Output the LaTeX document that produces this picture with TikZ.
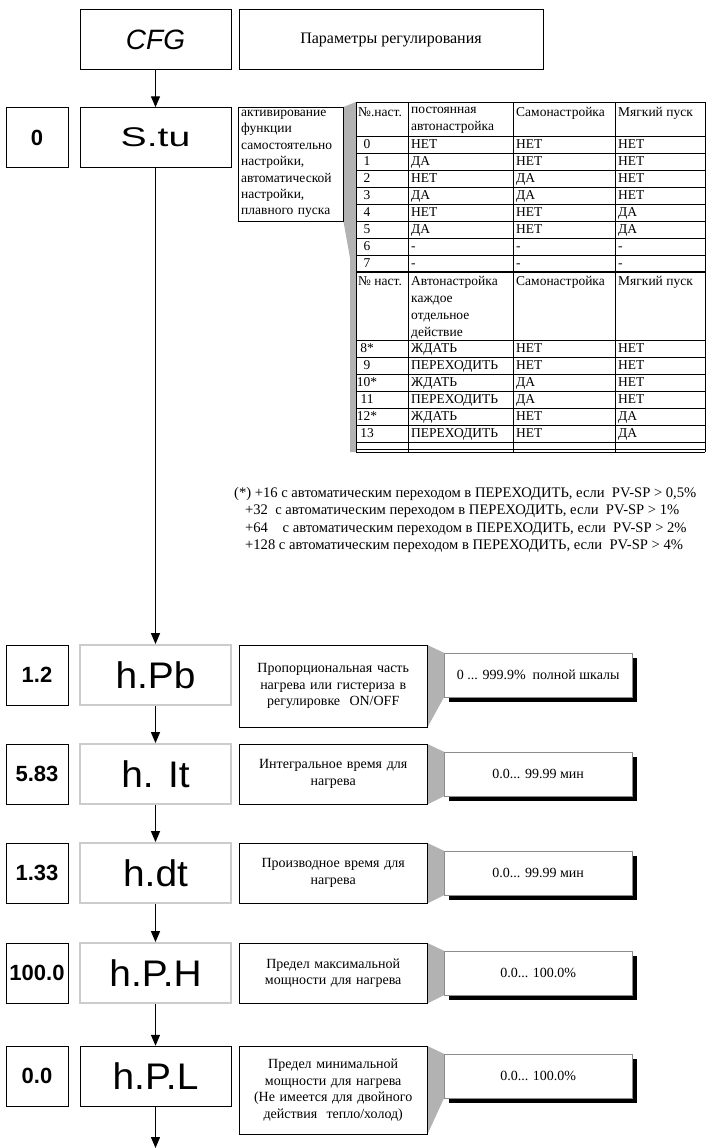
\documentclass[tikz,border=0pt]{standalone}
\usepackage{fontspec}
\setmainfont{Liberation Serif}
\setsansfont{Liberation Sans}
\newfontfamily\segfont[FakeStretch=1.05]{Liberation Sans}
\newfontfamily\segwide[FakeStretch=1.45]{Liberation Sans}
\usetikzlibrary{positioning, arrows.meta, shadows, backgrounds}

\begin{document}
\begin{tikzpicture}[x=1pt, y=-1pt,
    numbox/.style={draw, minimum width=62pt, minimum height=60pt, inner sep=0pt, font=\sffamily\bfseries\fontsize{22}{24}\selectfont},
    disp/.style={draw, minimum width=151pt, minimum height=60pt, inner sep=0pt, font=\segfont\fontsize{37}{37}\selectfont},
    dim/.style={draw=black!20, line width=1.8pt},
    desc/.style={draw, anchor=north west, minimum width=188pt, minimum height=60pt, text width=180pt, align=center, inner sep=4pt, font=\fontsize{14}{16.7}\selectfont},
    val/.style={draw=black!45, fill=white, anchor=west, minimum width=188pt, minimum height=44pt, font=\fontsize{14}{16}\selectfont, drop shadow={shadow xshift=5pt, shadow yshift=-5pt, fill=black, opacity=1}},
    cell/.style={anchor=base west, inner sep=0pt, align=left, font=\fontsize{13.5}{17}\selectfont},
    note/.style={anchor=base west, inner sep=0pt, font=\fontsize{14.6}{17}\selectfont},
    wedge/.style={fill=black!30},
    arrow/.style={-{Triangle[length=11pt, width=9pt]}, line width=1.3pt}
]
    \useasboundingbox (0,0) rectangle (706,1148);

    % menu header
    \node[disp, font=\sffamily\itshape\fontsize{28}{28}\selectfont] (cfg) at (155.5,39.5) {CFG};
    \node[draw, minimum width=304pt, minimum height=60pt, font=\fontsize{16}{18}\selectfont] (title) at (391,39.5) {Параметры регулирования};

    % S.tu
    \node[numbox] (v0) at (37,137.5) {0};
    \node[disp, font=\segwide\fontsize{27}{27}\selectfont] (stu) at (155.5,137.5) {S.tu};
    \node[draw, anchor=north west, text width=99pt, inner sep=3pt, align=left, font=\fontsize{13.5}{16.4}\selectfont] (stuinfo) at (238,107) {активирование\\функции\\самостоятельно\\настройки,\\автоматической\\настройки,\\плавного пуска};

    % settings table
    \coordinate (tnw) at (356,102);
    \coordinate (tsw) at (356,452);
    \coordinate (tkink) at (350,258);
    \draw[thin] (356,102) -- (705,102);
    \foreach \x in {356,408,513,615,705} \draw[thin] (\x,102) -- (\x,452);
    \draw[thin] (356,136) -- (705,136);
    \foreach \y in {153,170,...,255} \draw[thin] (356,\y) -- (705,\y);
    \draw[line width=1.6pt] (356,272) -- (705,272);
    \foreach \y in {340,357,...,442} \draw[thin] (356,\y) -- (705,\y);
    \draw[thin] (356,449) -- (705,449);
    \draw[thin] (356,452) -- (705,452);

    \node[cell, anchor=north west] (t1nr) at (358,107) {№.наст.};
    \node[cell, anchor=north west] (t1aut) at (411,107) {постоянная\\автонастройка};
    \node[cell, anchor=north west] (t1slf) at (516,107) {Самонастройка};
    \node[cell, anchor=north west] (t1sft) at (618,107) {Мягкий пуск};
    \foreach \nr/\aut/\slf/\sft [count=\i from 0] in {0/НЕТ/НЕТ/НЕТ, 1/ДА/НЕТ/НЕТ, 2/НЕТ/ДА/НЕТ, 3/ДА/ДА/НЕТ, 4/НЕТ/НЕТ/ДА, 5/ДА/НЕТ/ДА, 6/-/-/-, 7/-/-/-} {
        \node[cell, anchor=base] (a\i) at (367,{148.5+17*\i}) {\nr};
        \node[cell] (aa\i) at (411,{148.5+17*\i}) {\aut};
        \node[cell] (ab\i) at (516,{148.5+17*\i}) {\slf};
        \node[cell] (ac\i) at (618,{148.5+17*\i}) {\sft};
    }

    \node[cell, anchor=north west] (t2nr) at (358,276) {№ наст.};
    \node[cell, anchor=north west] (t2aut) at (411,276) {Автонастройка\\каждое\\отдельное\\действие};
    \node[cell, anchor=north west] (t2slf) at (516,276) {Самонастройка};
    \node[cell, anchor=north west] (t2sft) at (618,276) {Мягкий пуск};
    \foreach \nr/\aut/\slf/\sft [count=\i from 0] in {8*/ЖДАТЬ/НЕТ/НЕТ, 9/ПЕРЕХОДИТЬ/НЕТ/НЕТ, 10*/ЖДАТЬ/ДА/НЕТ, 11/ПЕРЕХОДИТЬ/ДА/НЕТ, 12*/ЖДАТЬ/НЕТ/ДА, 13/ПЕРЕХОДИТЬ/НЕТ/ДА} {
        \node[cell, anchor=base] (b\i) at (367,{352.5+17*\i}) {\nr};
        \node[cell] (ba\i) at (411,{352.5+17*\i}) {\aut};
        \node[cell] (bb\i) at (516,{352.5+17*\i}) {\slf};
        \node[cell] (bc\i) at (618,{352.5+17*\i}) {\sft};
    }

    \begin{scope}[on background layer]
        \fill[wedge] (stuinfo.north east) -- (tnw) -- (tsw) -- ++(-6,0) -- (tkink) -- (stuinfo.south east) -- cycle;
    \end{scope}

    % footnotes
    \node[note] (fn1) at (234,497) {(*) +16 с автоматическим переходом в ПЕРЕХОДИТЬ, если\ \ PV-SP > 0,5\%};
    \node[note] (fn2) at (245,514) {+32\ \ с автоматическим переходом в ПЕРЕХОДИТЬ, если\ \ PV-SP > 1\%};
    \node[note] (fn3) at (245,532) {+64\quad с автоматическим переходом в ПЕРЕХОДИТЬ, если\ \ PV-SP > 2\%};
    \node[note] (fn4) at (245,549) {+128 с автоматическим переходом в ПЕРЕХОДИТЬ, если\ \ PV-SP > 4\%};

    % heating parameters
    \node[numbox] (v1) at (37,675) {1.2};
    \node[disp, dim] (hpb) at (155.5,675) {h.Pb};
    \node[desc, minimum height=82pt] (d1) at (239,645) {Пропорциональная часть\\нагрева или гистериза в\\регулировке\ \ ON/OFF};
    \node[val] (r1) at (444,675) {0 ... 999.9\%\ \ полной шкалы};

    \node[numbox] (v2) at (37,774) {5.83};
    \node[disp, dim] (hit) at (155.5,774) {h. It};
    \node[desc] (d2) at (239,744) {Интегральное время для\\нагрева};
    \node[val] (r2) at (444,774) {0.0... 99.99 мин};

    \node[numbox] (v3) at (37,873) {1.33};
    \node[disp, dim] (hdt) at (155.5,873) {h.dt};
    \node[desc] (d3) at (239,843) {Производное время для\\нагрева};
    \node[val] (r3) at (444,873) {0.0... 99.99 мин};

    \node[numbox] (v4) at (37,973) {100.0};
    \node[disp, dim] (hph) at (155.5,973) {h.P.H};
    \node[desc] (d4) at (239,943) {Предел максимальной\\мощности для нагрева};
    \node[val] (r4) at (444,973) {0.0... 100.0\%};

    \node[numbox] (v5) at (37,1076) {0.0};
    \node[disp] (hpl) at (155.5,1076) {h.P.L};
    \node[desc, minimum height=88pt] (d5) at (239,1046) {Предел минимальной\\мощности для нагрева\\(Не имеется для двойного\\действия\ \ тепло/холод)};
    \node[val] (r5) at (444,1076) {0.0... 100.0\%};

    \begin{scope}[on background layer]
        \foreach \k in {1,...,5}
            \fill[wedge] (d\k.north east) -- (r\k.north west) -- (r\k.south west) -- (d\k.south east) -- cycle;
    \end{scope}

    \coordinate (out) at (155.5,1148);
    \draw[arrow] (cfg) -- (stu);
    \draw[arrow] (stu) -- (hpb);
    \draw[arrow] (hpb) -- (hit);
    \draw[arrow] (hit) -- (hdt);
    \draw[arrow] (hdt) -- (hph);
    \draw[arrow] (hph) -- (hpl);
    \draw[arrow] (hpl) -- (out);
\end{tikzpicture}
\end{document}
